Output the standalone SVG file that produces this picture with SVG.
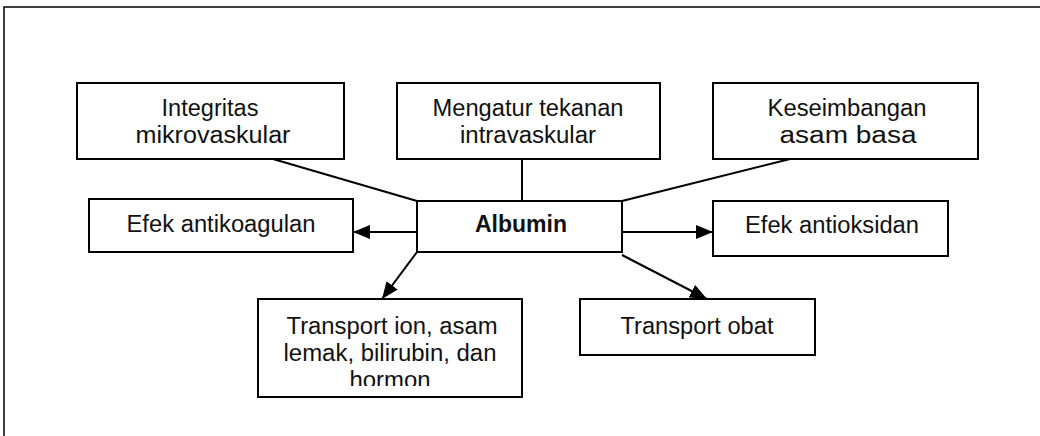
<svg xmlns="http://www.w3.org/2000/svg" width="1040" height="436" viewBox="0 0 1040 436">
<style>
.box{fill:#fff;stroke:#000;stroke-width:2}
.t{font-family:"Liberation Sans",Arial,sans-serif;font-size:23px;fill:#111;text-anchor:middle}
.b{font-weight:bold}
.c{stroke:#000;stroke-width:2;fill:none}
.a{marker-end:url(#ah)}
</style>
<defs>
<marker id="ah" markerUnits="userSpaceOnUse" markerWidth="18" markerHeight="15" refX="17" refY="7" orient="auto">
<path d="M0,0 L17,7 L0,14 z" fill="#000"/>
</marker>
<clipPath id="clipT"><rect x="258" y="299" width="264" height="87"/></clipPath>
</defs>
<rect x="0" y="0" width="1040" height="436" fill="#fff"/>
<path d="M4,436 V7 H1040" fill="none" stroke="#000" stroke-width="1.5"/>
<g id="connectors">
<line class="c" x1="273" y1="159" x2="417" y2="201"/>
<line class="c" x1="522" y1="159" x2="522" y2="201"/>
<line class="c" x1="790" y1="159" x2="622" y2="201"/>
<line class="c a" x1="417" y1="232" x2="353" y2="232"/>
<line class="c a" x1="622" y1="232" x2="713" y2="232"/>
<line class="c a" x1="417" y1="252" x2="382" y2="299"/>
<line class="c a" x1="622" y1="255" x2="707" y2="299"/>
</g>
<g id="integritas">
<rect class="box" x="77" y="83" width="267" height="76"/>
<text class="t" x="210" y="116" textLength="97" lengthAdjust="spacingAndGlyphs">Integritas</text>
<text class="t" x="213" y="143" textLength="155" lengthAdjust="spacingAndGlyphs">mikrovaskular</text>
</g>
<g id="mengatur">
<rect class="box" x="397" y="83" width="263" height="76"/>
<text class="t" x="528" y="116" textLength="191" lengthAdjust="spacingAndGlyphs">Mengatur tekanan</text>
<text class="t" x="528" y="143" textLength="136" lengthAdjust="spacingAndGlyphs">intravaskular</text>
</g>
<g id="keseimbangan">
<rect class="box" x="713" y="83" width="265" height="76"/>
<text class="t" x="847" y="116" textLength="159" lengthAdjust="spacingAndGlyphs">Keseimbangan</text>
<text class="t" x="848" y="143" textLength="137" lengthAdjust="spacingAndGlyphs">asam basa</text>
</g>
<g id="albumin">
<rect class="box" x="417" y="201" width="205" height="51"/>
<text class="t b" x="521" y="232" textLength="92" lengthAdjust="spacingAndGlyphs">Albumin</text>
</g>
<g id="antikoagulan">
<rect class="box" x="89" y="199" width="264" height="53"/>
<text class="t" x="221" y="232" textLength="189" lengthAdjust="spacingAndGlyphs">Efek antikoagulan</text>
</g>
<g id="antioksidan">
<rect class="box" x="713" y="201" width="235" height="55"/>
<text class="t" x="832" y="233" textLength="174" lengthAdjust="spacingAndGlyphs">Efek antioksidan</text>
</g>
<g id="transport-ion">
<rect class="box" x="258" y="299" width="264" height="98"/>
<g clip-path="url(#clipT)">
<text class="t" x="392" y="334" textLength="211" lengthAdjust="spacingAndGlyphs">Transport ion, asam</text>
<text class="t" x="390" y="361" textLength="213" lengthAdjust="spacingAndGlyphs">lemak, bilirubin, dan</text>
<text class="t" x="390" y="388" textLength="81" lengthAdjust="spacingAndGlyphs">hormon</text>
</g>
</g>
<g id="transport-obat">
<rect class="box" x="580" y="299" width="235" height="56"/>
<text class="t" x="697" y="334" textLength="153" lengthAdjust="spacingAndGlyphs">Transport obat</text>
</g>
</svg>
